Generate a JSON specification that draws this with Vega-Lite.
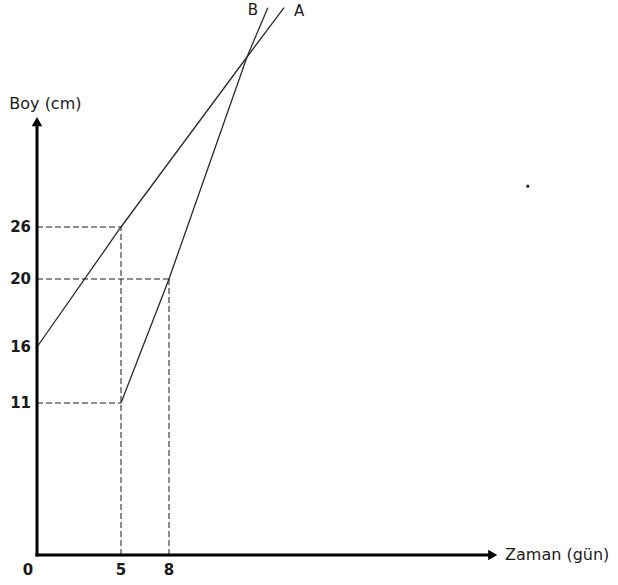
{
  "$schema": "https://vega.github.io/schema/vega-lite/v6.json",
  "width": 618,
  "height": 585,
  "padding": 0,
  "autosize": {"type": "none"},
  "background": "white",
  "config": {"view": {"stroke": null}},
  "datasets": {
    "guides": [
      {"x": 0, "x2": 5, "y": 26, "y2": 26},
      {"x": 0, "x2": 8, "y": 20, "y2": 20},
      {"x": 0, "x2": 5, "y": 11, "y2": 11},
      {"x": 5, "x2": 5, "y": 0, "y2": 26},
      {"x": 8, "x2": 8, "y": 0, "y2": 20}
    ],
    "series": [
      {"series": "A", "x": 0, "y": 16},
      {"series": "A", "x": 5, "y": 26},
      {"series": "A", "x": 20, "y": 56},
      {"series": "A", "x": 25.7, "y": 64.7},
      {"series": "B", "x": 5, "y": 11},
      {"series": "B", "x": 8, "y": 20},
      {"series": "B", "x": 20, "y": 56},
      {"series": "B", "x": 23.2, "y": 64.7}
    ],
    "axes": [
      {"dir": "x", "x": 0, "x2": 57, "y": 0, "y2": 0},
      {"dir": "y", "x": 0, "x2": 0, "y": 0, "y2": 44}
    ],
    "arrows": [
      {"dir": "x", "x": 57.8, "y": 0},
      {"dir": "y", "x": 0, "y": 44.6}
    ],
    "yticks": [
      {"x": 0, "y": 11, "label": "11"},
      {"x": 0, "y": 16, "label": "16"},
      {"x": 0, "y": 20, "label": "20"},
      {"x": 0, "y": 26, "label": "26"}
    ],
    "xticks": [
      {"x": 5, "y": 0, "label": "5"},
      {"x": 8, "y": 0, "label": "8"}
    ],
    "origin": [{"x": 0, "y": 0, "label": "0"}],
    "names": [
      {"x": 20.9, "y": 64.3, "label": "B"},
      {"x": 28.0, "y": 64.1, "label": "A"}
    ],
    "ytitle": [{"x": 0.5, "y": 47.7, "label": "Boy (cm)"}],
    "xtitle": [{"x": 59.7, "y": 0, "label": "Zaman (gün)"}],
    "dot": [{"x": 63.2, "y": 33.2}]
  },
  "encoding": {
    "x": {"field": "x", "type": "quantitative", "axis": null,
          "scale": {"domain": [0, 5, 8, 20], "range": [37, 121, 169, 247], "nice": false, "zero": false}},
    "y": {"field": "y", "type": "quantitative", "axis": null,
          "scale": {"domain": [0, 11, 16, 20, 26, 56], "range": [555, 403, 347, 279, 227, 57], "nice": false, "zero": false}}
  },
  "layer": [
    {
      "data": {"name": "guides"},
      "mark": {"type": "rule", "strokeDash": [6, 3], "color": "#1a1a1a", "strokeWidth": 1},
      "encoding": {"x2": {"field": "x2"}, "y2": {"field": "y2"}}
    },
    {
      "data": {"name": "series"},
      "mark": {"type": "line", "color": "#2a2a2a", "strokeWidth": 1.3},
      "encoding": {"detail": {"field": "series", "type": "nominal"}}
    },
    {
      "data": {"name": "axes"},
      "mark": {"type": "rule", "color": "black", "strokeWidth": 3, "strokeCap": "square"},
      "encoding": {"x2": {"field": "x2"}, "y2": {"field": "y2"}}
    },
    {
      "data": {"name": "arrows"},
      "transform": [{"filter": "datum.dir === 'x'"}],
      "mark": {"type": "point", "shape": "triangle-right", "filled": true, "color": "black", "size": 110, "opacity": 1}
    },
    {
      "data": {"name": "arrows"},
      "transform": [{"filter": "datum.dir === 'y'"}],
      "mark": {"type": "point", "shape": "triangle-up", "filled": true, "color": "black", "size": 110, "opacity": 1}
    },
    {
      "data": {"name": "yticks"},
      "mark": {"type": "text", "align": "right", "baseline": "middle", "dx": -6, "font": "DejaVu Sans", "fontWeight": "bold", "fontSize": 15, "color": "#1a1a1a"},
      "encoding": {"text": {"field": "label"}}
    },
    {
      "data": {"name": "xticks"},
      "mark": {"type": "text", "align": "center", "baseline": "middle", "dy": 15, "font": "DejaVu Sans", "fontWeight": "bold", "fontSize": 15, "color": "#1a1a1a"},
      "encoding": {"text": {"field": "label"}}
    },
    {
      "data": {"name": "origin"},
      "mark": {"type": "text", "align": "center", "baseline": "middle", "dx": -9, "dy": 15, "font": "DejaVu Sans", "fontWeight": "bold", "fontSize": 15, "color": "#1a1a1a"},
      "encoding": {"text": {"field": "label"}}
    },
    {
      "data": {"name": "names"},
      "mark": {"type": "text", "align": "center", "baseline": "middle", "font": "DejaVu Sans", "fontSize": 15, "color": "#1a1a1a"},
      "encoding": {"text": {"field": "label"}}
    },
    {
      "data": {"name": "ytitle"},
      "mark": {"type": "text", "align": "center", "baseline": "middle", "font": "DejaVu Sans", "fontSize": 16, "color": "#1a1a1a"},
      "encoding": {"text": {"field": "label"}}
    },
    {
      "data": {"name": "xtitle"},
      "mark": {"type": "text", "align": "left", "baseline": "middle", "font": "DejaVu Sans", "fontSize": 16, "color": "#1a1a1a"},
      "encoding": {"text": {"field": "label"}}
    },
    {
      "data": {"name": "dot"},
      "mark": {"type": "point", "shape": "square", "filled": true, "color": "#222222", "size": 8, "opacity": 1}
    }
  ]
}
